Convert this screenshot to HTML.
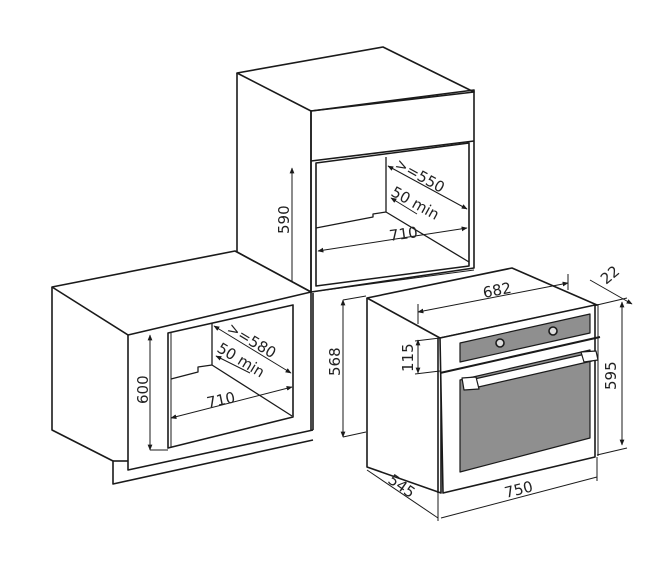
<!DOCTYPE html>
<html><head><style>html,body{margin:0;padding:0;background:#fff}svg{display:block}</style></head>
<body>
<svg width="664" height="561" viewBox="0 0 664 561" xmlns="http://www.w3.org/2000/svg" font-family="'DejaVu Sans', 'Liberation Sans', sans-serif" font-size="15" fill="none" stroke="#1a1a1a" stroke-width="1.6" stroke-linejoin="round">
<defs>
<marker id="a" viewBox="0 0 10 10" refX="9" refY="5" markerWidth="6" markerHeight="6" orient="auto-start-reverse"><path d="M0,1 L10,5 L0,9 z" fill="#1a1a1a" stroke="none"/></marker>
</defs>
<!-- upper cabinet -->
<path d="M237,73 L383,47 L474,92 L311,111 Z" fill="#fff"/>
<path d="M237,73 L237,252 L311,292 L311,111"/>
<path d="M311,111 L474,90 L474,268 L311,292 Z"/>
<path d="M311,161 L474,141"/>
<path d="M316,163 L469,143 L469,266 L316,286 Z"/>
<path d="M386,157 L386,212 L469,262" stroke-width="1.3"/>
<path d="M316,228 L373,217 L373,214 L386,212" stroke-width="1.3"/>
<path d="M311,292 L474,270" stroke-width="1"/>
<g stroke-width="1">
<line x1="292" y1="168" x2="292" y2="288" marker-start="url(#a)" marker-end="url(#a)"/>
<line x1="388" y1="166" x2="467" y2="209" marker-start="url(#a)" marker-end="url(#a)"/>
<line x1="391" y1="198" x2="417" y2="214" marker-start="url(#a)"/>
<line x1="318" y1="251" x2="467" y2="228" marker-start="url(#a)" marker-end="url(#a)"/>
</g>
<g fill="#222" stroke="none">
<text x="0" y="0" transform="translate(289,234) rotate(-90)">590</text>
<text x="0" y="0" transform="translate(394,167) rotate(29)">&gt;=550</text>
<text x="0" y="0" transform="translate(390,195) rotate(29)">50 min</text>
<text x="0" y="0" transform="translate(390,241) rotate(-8)">710</text>
</g>
<!-- lower left cabinet -->
<path d="M52,287 L235,251 L311,292 L128,335 Z" fill="#fff"/>
<path d="M52,287 L52,430 L113,461 L113,484 L313,440"/>
<path d="M113,461 L128,461"/>
<path d="M128,335 L128,470 L313,430"/>
<path d="M168,333 L293,305 L293,417 L168,448 Z"/>
<path d="M171,333 L171,448" stroke-width="1"/>
<path d="M212,323 L212,365 L292,416" stroke-width="1.3"/>
<path d="M171,379 L198,372 L198,367 L212,365" stroke-width="1.3"/>
<path d="M311,292 L311,430 M313,293 L313,430"/>
<g stroke-width="1">
<line x1="150" y1="335" x2="150" y2="450" marker-start="url(#a)" marker-end="url(#a)"/>
<line x1="150" y1="450" x2="168" y2="450"/>
<line x1="214" y1="326" x2="291" y2="373" marker-start="url(#a)" marker-end="url(#a)"/>
<line x1="216" y1="356" x2="250" y2="373" marker-start="url(#a)"/>
<line x1="171" y1="418" x2="292" y2="387" marker-start="url(#a)" marker-end="url(#a)"/>
<line x1="343" y1="300" x2="343" y2="437" marker-start="url(#a)" marker-end="url(#a)"/>
<line x1="343" y1="300" x2="366" y2="296"/>
<line x1="343" y1="437" x2="366" y2="432"/>
</g>
<g fill="#222" stroke="none">
<text x="0" y="0" transform="translate(148,404) rotate(-90)">600</text>
<text x="0" y="0" transform="translate(226,331) rotate(31)">&gt;=580</text>
<text x="0" y="0" transform="translate(216,351) rotate(31)">50 min</text>
<text x="0" y="0" transform="translate(208,408) rotate(-12)">710</text>
<text x="0" y="0" transform="translate(340,376) rotate(-90)">568</text>
</g>
<!-- oven -->
<path d="M367,298 L512,268 L597,305 L440,338 Z" fill="#fff"/>
<path d="M367,298 L367,467 L441,493 L441,338"/>
<path d="M438,338 L438,493"/>
<path d="M440,338 L595,305 L595,457 L443,493 Z" fill="#fff"/>
<path d="M598,304 L598,456" stroke-width="1"/>
<path d="M460,343 L590,314 L590,333 L460,362 Z" fill="#8f8f8f" stroke-width="1.2"/>
<circle cx="500" cy="343" r="4" fill="#ddd"/>
<circle cx="553" cy="331" r="4" fill="#ddd"/>
<path d="M440,373 L600,337" stroke-width="2"/>
<path d="M460,380 L590,350 L590,438 L460,472 Z" fill="#8f8f8f" stroke-width="1.2"/>
<path d="M470,380 L590,353 L592,361 L474,388 Z" fill="#fff" stroke-width="1.2"/>
<path d="M462,378 L476,377 L479,389 L464,390 Z" fill="#fff" stroke-width="1.2"/>
<path d="M581,352 L596,351 L598,360 L584,362 Z" fill="#fff" stroke-width="1.2"/>
<g stroke-width="1">
<line x1="418" y1="312" x2="568" y2="283" marker-start="url(#a)" marker-end="url(#a)"/>
<line x1="418" y1="304" x2="418" y2="324"/>
<line x1="568" y1="274" x2="568" y2="290"/>
<line x1="418" y1="340" x2="418" y2="373" marker-start="url(#a)" marker-end="url(#a)"/>
<line x1="415" y1="341" x2="440" y2="338"/>
<line x1="415" y1="374" x2="440" y2="371"/>
<line x1="622" y1="302" x2="622" y2="445" marker-start="url(#a)" marker-end="url(#a)"/>
<line x1="597" y1="305" x2="627" y2="298"/>
<line x1="597" y1="455" x2="627" y2="448"/>
<line x1="590" y1="280" x2="632" y2="304" marker-end="url(#a)"/>
<line x1="367" y1="470" x2="438" y2="518"/>
<line x1="438" y1="493" x2="438" y2="521"/>
<line x1="441" y1="518" x2="597" y2="477"/>
<line x1="597" y1="457" x2="597" y2="481"/>
</g>
<g fill="#222" stroke="none">
<text x="0" y="0" transform="translate(484,298) rotate(-11)">682</text>
<text x="0" y="0" transform="translate(413,372) rotate(-90)">115</text>
<text x="0" y="0" transform="translate(616,390) rotate(-90)">595</text>
<text x="0" y="0" transform="translate(606,285) rotate(-40)">22</text>
<text x="0" y="0" transform="translate(387,482) rotate(35)">545</text>
<text x="0" y="0" transform="translate(506,498) rotate(-14)">750</text>
</g>
</svg>
</body></html>
